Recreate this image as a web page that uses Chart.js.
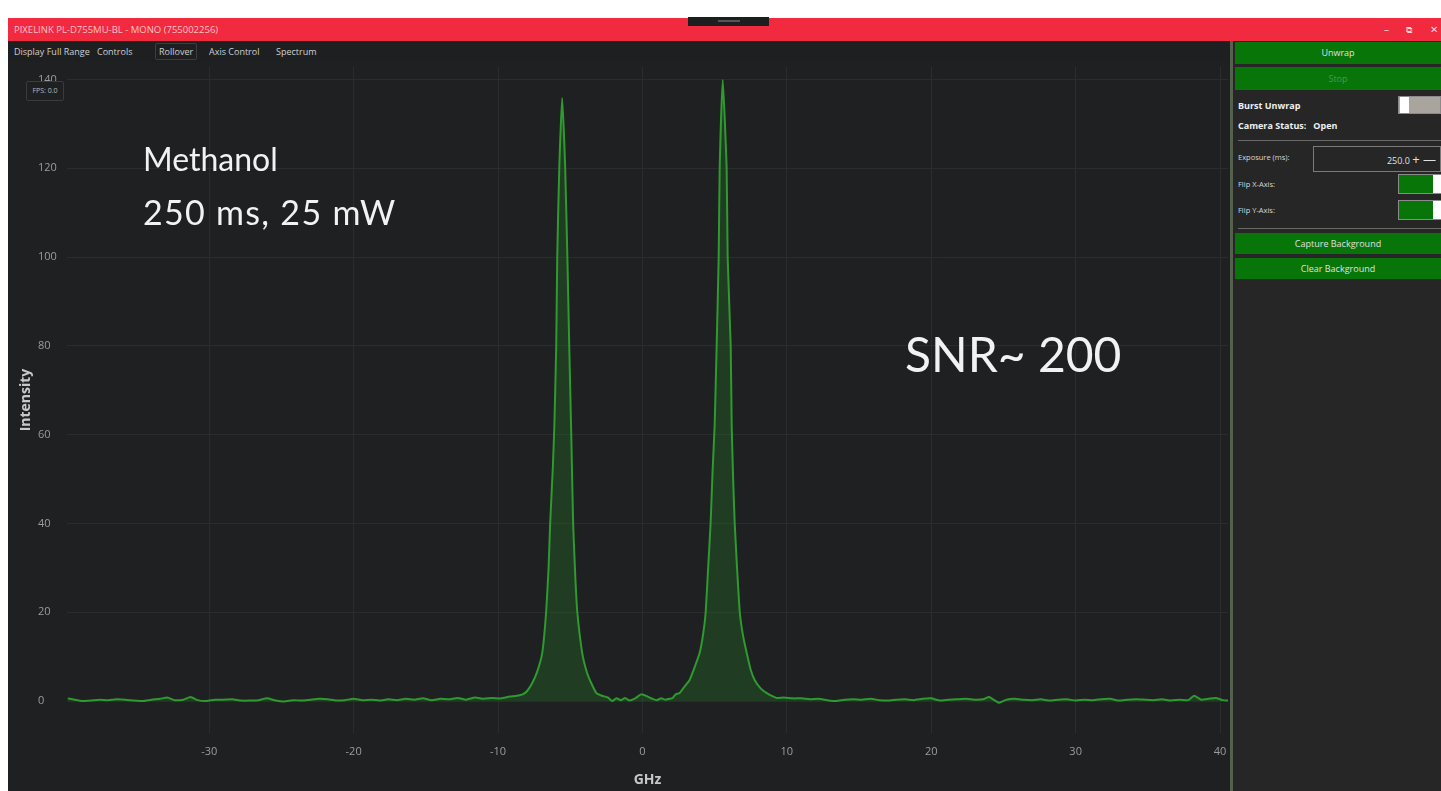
<!DOCTYPE html>
<html lang="en">
<head>
    <meta charset="UTF-8">
    <title>PIXELINK PL-D755MU-BL - MONO</title>
    <script src="https://cdn.jsdelivr.net/npm/chart.js"></script>
    <style>
        body { margin: 0; background: #ffffff; width: 1441px; height: 791px; overflow: hidden; position: relative; font-family: "Open Sans", sans-serif; }
        .abs { position: absolute; }
        .titlebar { left: 8px; top: 18px; width: 1433px; height: 23px; background: #f22a40; }
        .titlebar .t { left: 6px; top: 5px; font-size: 9.5px; color: #ffc0c6; white-space: nowrap; }
        .tab { left: 688px; top: 17px; width: 81px; height: 9px; background: #1d1e20; }
        .tab div { left: 30px; top: 3px; width: 22px; height: 2px; background: #555; }
        .winctl { top: 22px; font-size: 10px; color: #ffd6da; }
        .menubar { left: 8px; top: 41px; width: 1222px; height: 21px; background: #1e1f21; }
        .menubar span { position: absolute; top: 4px; font-size: 9px; color: #d0d0d0; white-space: nowrap; }
        .plotwrap { left: 8px; top: 62px; width: 1222px; height: 729px; background: #1f2022; }
        .fps { left: 26px; top: 81px; width: 36px; height: 18px; background: #1f2022; border: 1px solid #3a3b3e; border-radius: 2px; font-size: 7px; color: #bbb; text-align: center; line-height: 18px; }
        .note { font-family: Lato, sans-serif; color: #f2f2f2; white-space: nowrap; }
        .panel { left: 1230px; top: 41px; width: 211px; height: 750px; background: #262626; border-left: 3px solid #55604f; box-sizing: border-box; }
        .btn { left: 1235px; width: 206px; background: #077507; color: #e0e0e0; font-size: 9px; text-align: center; }
        .lbl { left: 1238px; font-size: 9px; color: #f0f0f0; white-space: nowrap; }
        .small { font-size: 7.5px; color: #d8d8d8; font-weight: normal; }
        .sep { left: 1238px; width: 203px; height: 1px; background: #6a6a6a; }
        .toggle { left: 1398px; width: 43px; box-sizing: border-box; border: 1px solid #8a8a8a; }
    </style>
</head>
<body>
    <div class="abs titlebar"><div class="abs t">PIXELINK PL-D755MU-BL - MONO (755002256)</div></div>
    <div class="abs tab"><div class="abs"></div></div>
    <div class="abs winctl" style="left:1384px;">&#8211;</div>
    <div class="abs winctl" style="left:1406px;font-size:9px;top:23px;">&#10697;</div>
    <div class="abs winctl" style="left:1430px;">&#10005;</div>

    <div class="abs menubar">
        <span style="left:6px;">Display Full Range</span>
        <span style="left:89px;">Controls</span>
        <span style="left:147px;top:2px;padding:1px 3px;border:1px solid #3c3d40;border-radius:2px;">Rollover</span>
        <span style="left:201px;">Axis Control</span>
        <span style="left:268px;">Spectrum</span>
    </div>

    <div class="abs plotwrap"><canvas id="spectrumChart" width="1222" height="729"></canvas></div>
    <div class="abs fps">FPS: 0.0</div>

    <div class="abs note" style="left:143px;top:139px;font-size:32px;">Methanol</div>
    <div class="abs note" style="left:143px;top:191px;font-size:34px;letter-spacing:1.3px;">250 ms, 25 mW</div>
    <div class="abs note" style="left:905px;top:325px;font-size:48px;">SNR~ 200</div>

    <div class="abs panel"></div>
    <div class="abs btn" style="top:42px;height:22px;line-height:22px;">Unwrap</div>
    <div class="abs btn" style="top:67px;height:23px;line-height:23px;color:#4f9a4f;">Stop</div>
    <div class="abs lbl" style="top:99px;font-weight:bold;">Burst Unwrap</div>
    <div class="abs toggle" style="top:96px;height:18px;background:#a9a59e;"><div class="abs" style="left:1px;top:0;width:9px;height:16px;background:#fff;"></div></div>
    <div class="abs lbl" style="top:119px;font-weight:bold;">Camera Status:&nbsp;&nbsp; Open</div>
    <div class="abs sep" style="top:140px;"></div>
    <div class="abs lbl small" style="top:152px;">Exposure (ms):</div>
    <div class="abs" style="left:1313px;top:146px;width:128px;height:26px;box-sizing:border-box;border:1px solid #7a7a7a;color:#e0e0e0;font-size:9px;line-height:24px;text-align:right;padding-right:4px;white-space:nowrap;">250.0 <span style="font-size:13px;">+ &#8212;</span></div>
    <div class="abs lbl small" style="top:179px;">Flip X-Axis:</div>
    <div class="abs toggle" style="top:174px;height:20px;background:#077507;"><div class="abs" style="left:34px;top:0;width:8px;height:18px;background:#fff;"></div></div>
    <div class="abs lbl small" style="top:205px;">Flip Y-Axis:</div>
    <div class="abs toggle" style="top:200px;height:20px;background:#077507;"><div class="abs" style="left:34px;top:0;width:8px;height:18px;background:#fff;"></div></div>
    <div class="abs sep" style="top:228px;"></div>
    <div class="abs btn" style="top:233px;height:21px;line-height:21px;">Capture Background</div>
    <div class="abs btn" style="top:258px;height:21px;line-height:21px;">Clear Background</div>

    <script>
        // spectrum (GHz vs intensity)
        const freqGHz = [
            -39.8, -39.3, -38.8, -38.2, -37.6, -37.0, -36.4, -35.8, -35.2, -34.6,
            -34.0, -33.4, -32.9, -32.4, -31.8, -31.3, -30.8, -30.2, -29.6, -29.0,
            -28.4, -27.8, -27.2, -26.6, -26.0, -25.4, -24.8, -24.2, -23.6, -23.0,
            -22.4, -21.8, -21.2, -20.6, -20.0, -19.4, -18.8, -18.2, -17.6, -17.0,
            -16.4, -15.8, -15.2, -14.6, -14.0, -13.4, -12.8, -12.2, -11.6, -11.0,
            -10.4, -9.8, -9.2, -8.7, -8.3, -8.0, -7.64, -7.3, -6.94, -6.67,
            -6.5, -6.39, -6.2, -6.1, -5.97, -5.9, -5.76, -5.56, -5.35, -5.2,
            -5.07, -4.93, -4.8, -4.65, -4.51, -4.17, -3.85, -3.54, -3.19, -2.8,
            -2.4, -2.1, -1.8, -1.5, -1.2, -0.9, -0.5, -0.1, 0.3, 0.7,
            1.0, 1.3, 1.6, 1.9, 2.1, 2.3, 2.57, 2.9, 3.26, 3.6,
            3.96, 4.2, 4.38, 4.55, 4.72, 4.86, 5.0, 5.14, 5.28, 5.35,
            5.56, 5.83, 5.9, 6.11, 6.18, 6.28, 6.39, 6.55, 6.74, 6.95,
            7.22, 7.5, 7.78, 8.2, 8.61, 9.0, 9.3, 9.8, 10.4, 11.0,
            11.6, 12.2, 12.8, 13.4, 14.0, 14.6, 15.2, 15.8, 16.4, 17.0,
            17.6, 18.2, 18.8, 19.4, 20.0, 20.6, 21.2, 21.8, 22.4, 23.0,
            23.6, 24.0, 24.7, 25.2, 25.8, 26.4, 27.0, 27.6, 28.2, 28.8,
            29.4, 30.0, 30.6, 31.2, 31.8, 32.4, 33.0, 33.6, 34.2, 34.8,
            35.4, 36.0, 36.6, 37.2, 37.8, 38.2, 38.7, 39.2, 39.7, 40.2,
            40.6
        ];
        const intensity = [
            0.6, 0.3, 0.0, 0.1, 0.3, 0.2, 0.4, 0.3, 0.1, 0.0,
            0.3, 0.5, 0.8, 0.2, 0.3, 0.9, 0.2, 0.0, 0.3, 0.3,
            0.4, 0.1, 0.1, 0.2, 0.6, 0.1, -0.1, 0.2, 0.1, 0.3,
            0.5, 0.4, 0.1, 0.2, 0.5, 0.2, 0.3, 0.1, 0.4, 0.2,
            0.5, 0.3, 0.6, 0.2, 0.5, 0.4, 0.7, 0.3, 0.8, 0.5,
            0.7, 0.6, 1.0, 1.2, 1.5, 2.2, 4.0, 6.5, 10.8, 20,
            30, 40, 53, 62, 80, 100, 120, 135.8, 120, 100,
            80, 60, 40, 28, 20, 10.8, 6.5, 4.0, 1.8, 1.2,
            0.8, 0.0, 0.6, 0.2, 0.7, 0.1, 0.6, 1.5, 1.1, 0.5,
            0.2, 0.6, 0.3, 0.5, 0.7, 1.5, 1.8, 3.2, 4.7, 7.5,
            10.8, 15, 20, 30, 40, 52, 62, 80, 100, 120,
            139.9, 120, 100, 80, 62, 50, 40, 30, 20, 15,
            10.8, 7.0, 4.7, 2.8, 1.8, 1.1, 0.7, 0.8, 0.6, 0.6,
            0.4, 0.5, 0.2, 0.0, 0.3, 0.4, 0.3, 0.5, 0.2, 0.1,
            0.3, 0.4, 0.2, 0.5, 0.6, 0.1, 0.3, 0.4, 0.5, 0.3,
            0.4, 0.9, -0.4, 0.3, 0.5, 0.3, 0.2, 0.4, 0.1, 0.3,
            0.4, 0.1, 0.3, 0.2, 0.4, 0.5, 0.1, 0.3, 0.4, 0.3,
            0.2, 0.4, 0.1, 0.3, 0.2, 1.2, 0.3, 0.5, 0.7, 0.2,
            0.1
        ];
        const xTickStep = 10;
        const yTickStep = 20;

        const points = freqGHz.map((f, i) => ({ x: f, y: intensity[i] }));

        const tickColor = '#9c9c9c';
        const gridColor = '#2b2c2f';

        const ctx = document.getElementById('spectrumChart').getContext('2d');
        const spectrumChart = new Chart(ctx, {
            type: 'line',
            data: {
                datasets: [{
                    label: 'Intensity',
                    data: points,
                    borderColor: '#2f9a2f',
                    backgroundColor: 'rgba(34, 120, 34, 0.32)',
                    borderWidth: 2,
                    pointRadius: 0,
                    tension: 0.15,
                    fill: 'origin'
                }]
            },
            options: {
                responsive: false,
                animation: false,
                layout: { padding: { top: 5, right: 2, left: 30, bottom: 0 } },
                plugins: {
                    legend: { display: false },
                    tooltip: { enabled: false }
                },
                scales: {
                    x: {
                        type: 'linear',
                        min: -39.85,
                        max: 40.55,
                        afterFit: scale => {
                            scale.height = 58;
                            // no extra room for edge labels, plot runs to the panel
                            scale.paddingLeft = 0;
                            scale.paddingRight = 0;
                        },
                        border: { display: false },
                        grid: { color: gridColor, drawTicks: false },
                        ticks: {
                            stepSize: xTickStep,
                            includeBounds: false,
                            padding: 12,
                            color: tickColor,
                            font: { family: 'Open Sans', size: 11 },
                            maxRotation: 0
                        },
                        title: {
                            display: true,
                            text: 'GHz',
                            color: '#c8c8c8',
                            font: { family: 'Open Sans', size: 14, weight: 'bold' },
                            padding: { top: 0, bottom: 3 }
                        }
                    },
                    y: {
                        min: -7.2,
                        max: 142.8,
                        afterFit: scale => {
                            scale.width = 29;
                            scale.paddingTop = 0;
                            scale.paddingBottom = 0;
                        },
                        border: { display: false },
                        grid: { color: gridColor, drawTicks: false },
                        ticks: {
                            stepSize: yTickStep,
                            includeBounds: false,
                            crossAlign: 'far',
                            padding: 4,
                            color: tickColor,
                            font: { family: 'Open Sans', size: 11 }
                        },
                        title: {
                            display: true,
                            text: 'Intensity',
                            color: '#c8c8c8',
                            font: { family: 'Open Sans', size: 14, weight: 'bold' },
                            padding: { top: -20, bottom: 0 }
                        }
                    }
                }
            }
        });
    </script>
</body>
</html>
